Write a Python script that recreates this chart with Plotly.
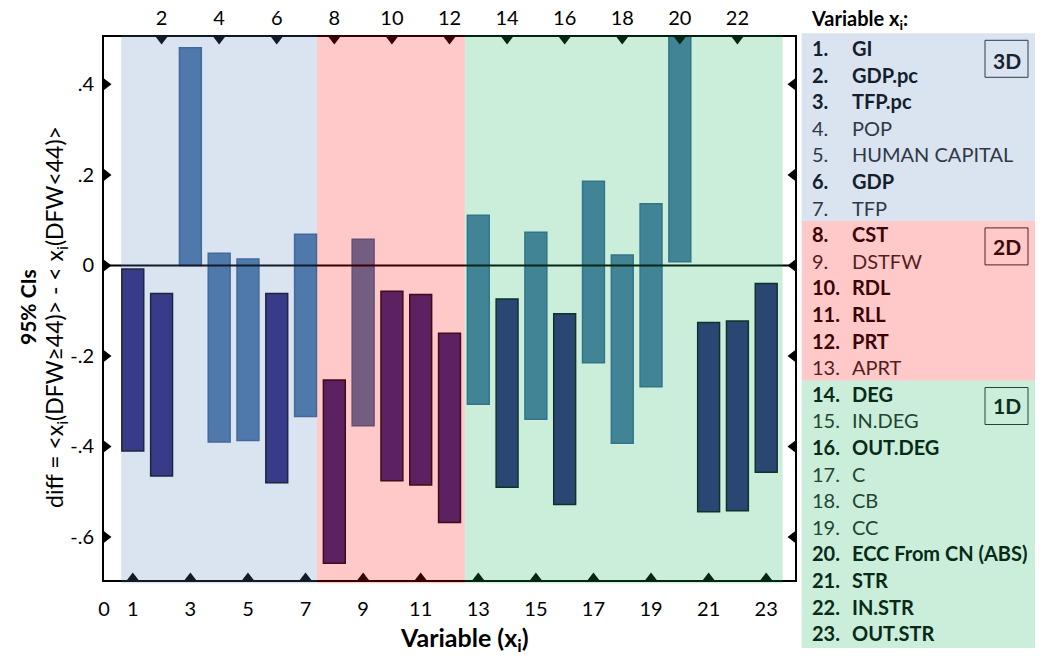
import plotly.graph_objects as go

# ---------------- data ----------------
variables = list(range(1, 24))
ci_low = [-0.41, -0.465, 0.0, -0.39, -0.387, -0.48, -0.334, -0.658, -0.354, -0.476,
          -0.485, -0.568, -0.307, -0.49, -0.34, -0.528, -0.215, -0.393, -0.268, 0.008,
          -0.544, -0.542, -0.457]
ci_high = [-0.008, -0.062, 0.481, 0.027, 0.014, -0.062, 0.069, -0.253, 0.058, -0.057,
           -0.064, -0.150, 0.111, -0.074, 0.073, -0.107, 0.186, 0.023, 0.136, 0.62,
           -0.126, -0.123, -0.040]
significant = [1, 1, 0, 0, 0, 1, 0, 1, 0, 1, 1, 1, 0, 1, 0, 1, 0, 0, 0, 0, 1, 1, 1]

names = ["GI", "GDP.pc", "TFP.pc", "POP", "HUMAN CAPITAL", "GDP", "TFP",
         "CST", "DSTFW", "RDL", "RLL", "PRT", "APRT",
         "DEG", "IN.DEG", "OUT.DEG", "C", "CB", "CC", "ECC From CN (ABS)",
         "STR", "IN.STR", "OUT.STR"]
name_bold = [1, 1, 1, 0, 0, 1, 0, 1, 0, 1, 1, 1, 0, 1, 0, 1, 0, 0, 0, 1, 1, 1, 1]

groups = ["3D", "2D", "1D"]
group_first = [1, 8, 14]
group_last = [7, 13, 23]
group_span = [(0.6, 7.4), (7.4, 12.53), (12.53, 23.57)]

ytick_vals = [-0.6, -0.4, -0.2, 0, 0.2, 0.4]
ytick_text = ["-.6", "-.4", "-.2", "0", ".2", ".4"]
xbottom_ticks = [0] + list(range(1, 24, 2))
xtop_ticks = list(range(2, 23, 2))

# ---------------- style ----------------
FONT = "Lato"
X_RANGE = [0, 24]
Y_RANGE = [-0.695, 0.5046]
L, R, T, B = 104, 795, 37, 580
W, H = 1045, 656

NAVY = (49, 42, 122)
STEEL = (78, 120, 166)
overlay = {
    "3D": ((82, 124, 185), 0.214),
    "2D": ((255, 2, 2), 0.21),
    "1D": ((19, 178, 91), 0.22),
}


def rgb(c):
    return "rgb(%d,%d,%d)" % tuple(int(round(v)) for v in c)


def rgba(c, a):
    return "rgba(%d,%d,%d,%.3f)" % (c[0], c[1], c[2], a)


def blend(base, grp):
    c, a = overlay[grp]
    return rgb([a * c[i] + (1 - a) * base[i] for i in range(3)])


def px(xp):
    return (xp - L) / (R - L)


def py(yp):
    return (B - yp) / (B - T)


fig = go.Figure()

bar_fill = [rgb(NAVY) if s else rgb(STEEL) for s in significant]
bar_line = ["rgb(15,15,30)" if s else "rgb(60,100,150)" for s in significant]
fig.add_trace(go.Bar(
    x=variables,
    y=[h - l for l, h in zip(ci_low, ci_high)],
    base=ci_low,
    width=0.76,
    marker=dict(color=bar_fill, line=dict(color=bar_line, width=1.5)),
    hoverinfo="skip",
))

# triangle tick markers
ypx = (Y_RANGE[1] - Y_RANGE[0]) / (B - T)
xpx = (X_RANGE[1] - X_RANGE[0]) / (R - L)
msz = 10
off = msz / 4
fig.add_trace(go.Scatter(x=xtop_ticks, y=[Y_RANGE[1] - off * ypx] * len(xtop_ticks),
                         xaxis="x2", mode="markers", cliponaxis=False,
                         marker=dict(symbol="triangle-down", size=msz, color="black"),
                         hoverinfo="skip"))
xb = xbottom_ticks[1:]
fig.add_trace(go.Scatter(x=xb, y=[Y_RANGE[0] + off * ypx] * len(xb),
                         mode="markers", cliponaxis=False,
                         marker=dict(symbol="triangle-up", size=msz, color="black"),
                         hoverinfo="skip"))
fig.add_trace(go.Scatter(x=[X_RANGE[0] + off * xpx] * len(ytick_vals), y=ytick_vals,
                         mode="markers", cliponaxis=False,
                         marker=dict(symbol="triangle-right", size=msz, color="black"),
                         hoverinfo="skip"))
fig.add_trace(go.Scatter(x=[X_RANGE[1] - off * xpx] * len(ytick_vals), y=ytick_vals,
                         mode="markers", cliponaxis=False,
                         marker=dict(symbol="triangle-left", size=msz, color="black"),
                         hoverinfo="skip"))

shapes = []
# zero line (drawn under the tinted overlays)
shapes.append(dict(type="line", xref="x", yref="y", x0=X_RANGE[0], x1=X_RANGE[1], y0=0, y1=0,
                   line=dict(color="black", width=2), layer="above"))
# tinted overlays over the plot
for g, (x0, x1) in zip(groups, group_span):
    c, a = overlay[g]
    shapes.append(dict(type="rect", xref="x", yref="paper", x0=x0, x1=x1,
                       y0=-0.006, y1=1.003, line=dict(width=0),
                       fillcolor=rgba(c, a), layer="above"))

# right-hand legend panel
ROW0, ROWH = 48, 26.6
panel_x0, panel_x1 = 801.7, 1035
for gi, g in enumerate(groups):
    ytop = ROW0 + ROWH * (group_first[gi] - 1) - ROWH / 2 + (-1.4 if gi == 0 else 0)
    ybot = ROW0 + ROWH * (group_last[gi] - 1) + ROWH / 2
    if gi == 2:
        ybot += 1.5
    c, a = overlay[g]
    shapes.append(dict(type="rect", xref="paper", yref="paper",
                       x0=px(panel_x0), x1=px(panel_x1), y0=py(ybot), y1=py(ytop),
                       line=dict(width=0), fillcolor=rgba(c, a), layer="below"))
    # group label box
    by0 = ytop + 7
    shapes.append(dict(type="rect", xref="paper", yref="paper",
                       x0=px(985), x1=px(1028), y0=py(by0 + 37), y1=py(by0),
                       line=dict(color=blend((40, 40, 40), g), width=1), fillcolor="rgba(0,0,0,0)",
                       layer="above"))

annotations = []
for gi, g in enumerate(groups):
    ytop = ROW0 + ROWH * (group_first[gi] - 1) - ROWH / 2
    annotations.append(dict(xref="paper", yref="paper", x=px(1006.5), y=py(ytop + 7 + 18.5),
                            text="<b>%s</b>" % g, showarrow=False, xanchor="center", yanchor="middle",
                            font=dict(family=FONT, size=21, color=blend((10, 10, 10), g))))

for i, (nm, bd) in enumerate(zip(names, name_bold)):
    v = i + 1
    g = groups[0] if v <= 7 else (groups[1] if v <= 13 else groups[2])
    yc = ROW0 + ROWH * i
    col = blend((5, 5, 5), g) if bd else blend((38, 38, 38), g)
    num = "%d." % v
    annotations.append(dict(xref="paper", yref="paper", x=px(810), y=py(yc),
                            text="<b>%s</b>" % num if bd else num, showarrow=False,
                            xanchor="left", yanchor="middle",
                            font=dict(family=FONT, size=20, color=col)))
    annotations.append(dict(xref="paper", yref="paper", x=px(850), y=py(yc),
                            text="<b>%s</b>" % nm if bd else nm, showarrow=False,
                            xanchor="left", yanchor="middle",
                            font=dict(family=FONT, size=20, color=col)))

annotations.append(dict(xref="paper", yref="paper", x=px(809), y=py(20),
                        text="<b>Variable x<sub>i</sub>:</b>", showarrow=False,
                        xanchor="left", yanchor="middle",
                        font=dict(family=FONT, size=20, color="black")))

# axis titles
annotations.append(dict(xref="paper", yref="paper", x=px(27), y=py(307),
                        text="<b>95% CIs</b>", textangle=-90, showarrow=False,
                        xanchor="center", yanchor="middle",
                        font=dict(family=FONT, size=21, color="black")))
annotations.append(dict(xref="paper", yref="paper", x=px(55), y=py(317),
                        text="diff = &lt;x<sub>i</sub>(DFW≥44)&gt; - &lt; x<sub>i</sub>(DFW&lt;44)&gt;",
                        textangle=-90, showarrow=False, xanchor="center", yanchor="middle",
                        font=dict(family=FONT, size=23, color="black")))
annotations.append(dict(xref="paper", yref="paper", x=px(464), y=py(639),
                        text="<b>Variable (x<sub>i</sub>)</b>", showarrow=False,
                        xanchor="center", yanchor="middle",
                        font=dict(family=FONT, size=25, color="black")))

fig.update_layout(
    width=W, height=H,
    margin=dict(l=L, r=W - R, t=T, b=H - B, pad=0),
    paper_bgcolor="white", plot_bgcolor="white",
    showlegend=False, barmode="overlay",
    font=dict(family=FONT, size=20, color="black"),
    shapes=shapes, annotations=annotations,
    xaxis=dict(range=X_RANGE, tickmode="array", tickvals=xbottom_ticks,
               ticktext=[str(t) for t in xbottom_ticks],
               showline=True, linewidth=2, linecolor="black", mirror=True,
               ticks="outside", ticklen=10, tickcolor="rgba(0,0,0,0)",
               showgrid=False, zeroline=False, tickfont=dict(size=20), automargin=False),
    xaxis2=dict(range=X_RANGE, overlaying="x", side="top", tickmode="array",
                tickvals=xtop_ticks, ticktext=[str(t) for t in xtop_ticks],
                ticks="outside", ticklen=3, tickcolor="rgba(0,0,0,0)",
                showline=False, showgrid=False, zeroline=False, tickfont=dict(size=20),
                automargin=False),
    yaxis=dict(range=Y_RANGE, tickmode="array", tickvals=ytick_vals, ticktext=ytick_text,
               showline=True, linewidth=2, linecolor="black", mirror=True,
               ticks="outside", ticklen=4, tickcolor="rgba(0,0,0,0)",
               showgrid=False, zeroline=False, tickfont=dict(size=20), automargin=False),
)

fig.write_html("out.html", config={"displayModeBar": False},
               post_script="document.body.style.margin='0px';")
